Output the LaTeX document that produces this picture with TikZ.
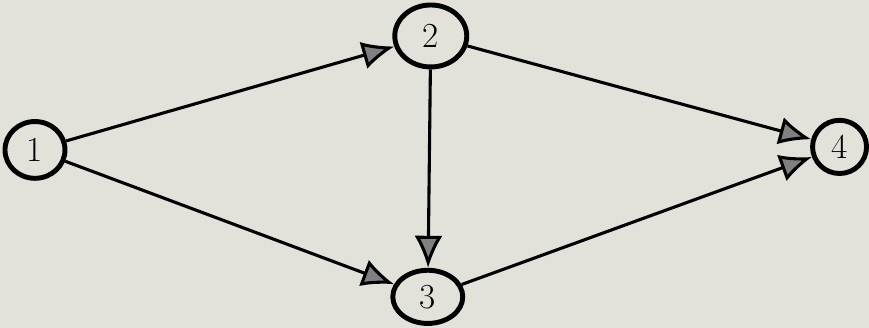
\documentclass[tikz,border=0pt]{standalone}
\usepackage{tikz}
\usetikzlibrary{shapes.geometric, arrows.meta, positioning}
\definecolor{paper}{RGB}{226,226,218}

\begin{document}
\begin{tikzpicture}[
  x=0.025cm, y=-0.025cm,
  every node/.style={font=\fontsize{25}{30}\selectfont},
  event/.style={ellipse, draw=black, line width=3.5pt, inner sep=0pt},
  arrow/.style={-{Latex[length=8mm, width=7mm, fill=black!50]}, line width=2.2pt, black}
]

% Paper
\fill[paper] (0,0) rectangle (869,328);

% Nodes (hand drawn circles, a bit uneven)
\node[event, minimum width=1.5cm, minimum height=1.42cm] (e1) at (35,150) {1};
\node[event, minimum width=1.8cm, minimum height=1.55cm] (e2) at (431,36) {2};
\node[event, minimum width=1.75cm, minimum height=1.33cm] (e3) at (428,297) {3};
\node[event, minimum width=1.35cm, minimum height=1.33cm] (e4) at (840,147) {4};

% Arrows
\draw[arrow] (e1) -- (e2);
\draw[arrow] (e1) -- (e3);
\draw[arrow] (e2) -- (e3);
\draw[arrow] (e2) -- (e4);
\draw[arrow] (e3) -- (e4);

\end{tikzpicture}
\end{document}
